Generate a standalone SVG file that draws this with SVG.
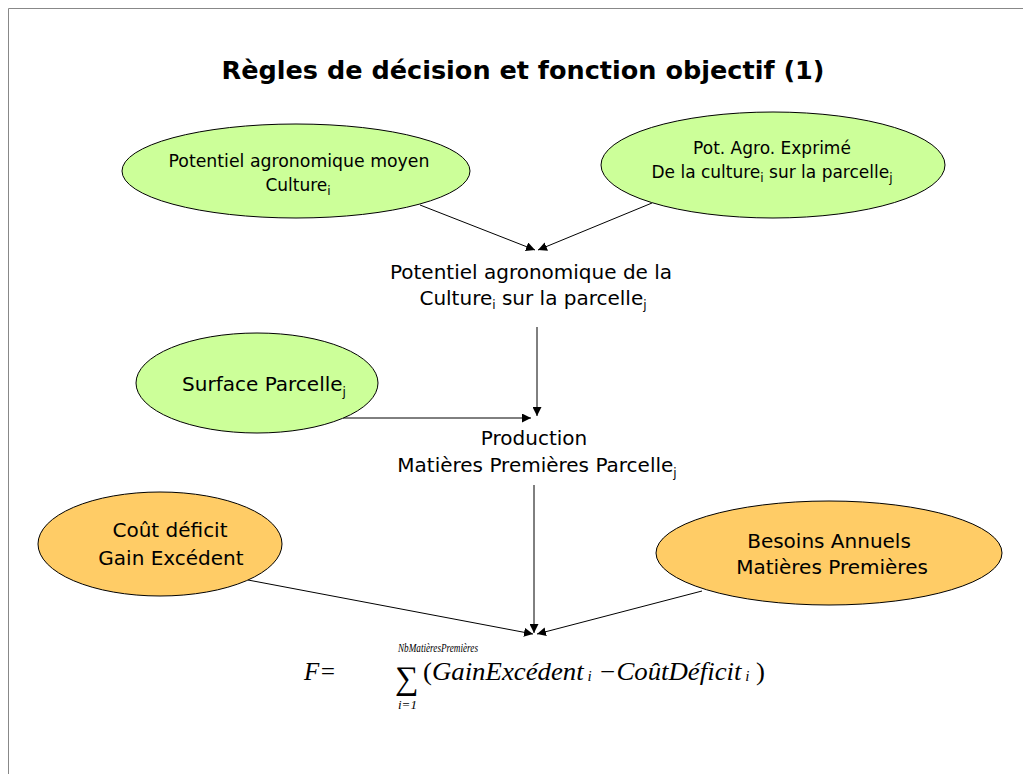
<svg xmlns="http://www.w3.org/2000/svg" width="1023" height="774" viewBox="0 0 1023 774">
  <style>
    .lbl { font-family: "DejaVu Sans", Verdana, sans-serif; font-size: 17px; fill: #000; text-anchor: middle; }
    .big { font-size: 20px; }
    .sub { font-size: 12px; }
    .green { fill: #ccff99; stroke: #000; stroke-width: 1; }
    .orange { fill: #ffcc66; stroke: #000; stroke-width: 1; }
    .wire { stroke: #000; stroke-width: 1; fill: none; marker-end: url(#arrow); }
    .math { font-family: "Liberation Serif", "Times New Roman", serif; font-style: italic; fill: #000; }
  </style>
  <defs>
    <marker id="arrow" viewBox="0 0 10 10" refX="10" refY="5" markerWidth="9" markerHeight="9" markerUnits="userSpaceOnUse" orient="auto">
      <path d="M0,0 L10,5 L0,10 z" fill="#000"/>
    </marker>
  </defs>

  <rect width="1023" height="774" fill="#fff"/>
  <!-- page frame -->
  <path d="M8.5,774 V8.5 H1023" stroke="#888" stroke-width="1" fill="none"/>

  <text id="title" x="523" y="79" font-family="DejaVu Sans, Verdana, sans-serif" font-weight="bold" font-size="25" text-anchor="middle" textLength="603" lengthAdjust="spacingAndGlyphs">Règles de décision et fonction objectif (1)</text>

  <g id="connectors">
    <line class="wire" x1="420" y1="205" x2="535" y2="250"/>
    <line class="wire" x1="652" y1="203" x2="538" y2="250"/>
    <line class="wire" x1="537" y1="327" x2="537" y2="416"/>
    <line class="wire" x1="343" y1="418" x2="531" y2="418"/>
    <line class="wire" x1="534" y1="485" x2="534" y2="633"/>
    <line class="wire" x1="248" y1="580" x2="533" y2="634"/>
    <line class="wire" x1="702" y1="591" x2="537" y2="634"/>
  </g>

  <g id="pot-moyen">
    <ellipse class="green" cx="296" cy="171" rx="174" ry="47"/>
    <text class="lbl" x="299" y="167" textLength="261" lengthAdjust="spacingAndGlyphs">Potentiel agronomique moyen</text>
    <text class="lbl" x="298" y="191">Culture<tspan class="sub" dy="4">i</tspan></text>
  </g>

  <g id="pot-exprime">
    <ellipse class="green" cx="773" cy="165" rx="172" ry="53"/>
    <text class="lbl" x="772" y="154">Pot. Agro. Exprimé</text>
    <text class="lbl" x="772" y="178">De la culture<tspan class="sub" dy="4">i</tspan><tspan dy="-4"> sur la parcelle</tspan><tspan class="sub" dy="4">j</tspan></text>
  </g>

  <g id="pot-culture">
    <text class="lbl big" x="531" y="279">Potentiel agronomique de la</text>
    <text class="lbl big" x="533" y="305">Culture<tspan class="sub" dy="4">i</tspan><tspan dy="-4"> sur la parcelle</tspan><tspan class="sub" dy="4">j</tspan></text>
  </g>

  <g id="surface">
    <ellipse class="green" cx="257" cy="383" rx="121" ry="50"/>
    <text class="lbl big" x="264" y="391">Surface Parcelle<tspan class="sub" dy="5">j</tspan></text>
  </g>

  <g id="production">
    <text class="lbl big" x="534" y="445">Production</text>
    <text class="lbl big" x="537" y="472">Matières Premières Parcelle<tspan class="sub" dy="5">j</tspan></text>
  </g>

  <g id="cout-gain">
    <ellipse class="orange" cx="160" cy="544" rx="122" ry="52"/>
    <text class="lbl big" x="170" y="537">Coût déficit</text>
    <text class="lbl big" x="171" y="565">Gain Excédent</text>
  </g>

  <g id="besoins">
    <ellipse class="orange" cx="829" cy="553" rx="173" ry="52"/>
    <text class="lbl big" x="829" y="548">Besoins Annuels</text>
    <text class="lbl big" x="832" y="574">Matières Premières</text>
  </g>

  <g id="objective">
    <text class="math" x="304" y="680" font-size="25">F=</text>
    <text class="math" x="398" y="652" font-size="12" textLength="80" lengthAdjust="spacingAndGlyphs">NbMatièresPremières</text>
    <text class="math" x="395" y="689" font-size="33" font-style="normal">∑</text>
    <text class="math" x="398" y="709" font-size="13">i=1</text>
    <text class="math" x="423" y="680" font-size="25" textLength="342" lengthAdjust="spacingAndGlyphs"><tspan font-style="normal">(</tspan>GainExcédent<tspan font-size="14" dy="1"> i</tspan><tspan dy="-1"> −CoûtDéficit</tspan><tspan font-size="14" dy="1"> i</tspan><tspan dy="-1" font-style="normal">  )</tspan></text>
  </g>
</svg>
